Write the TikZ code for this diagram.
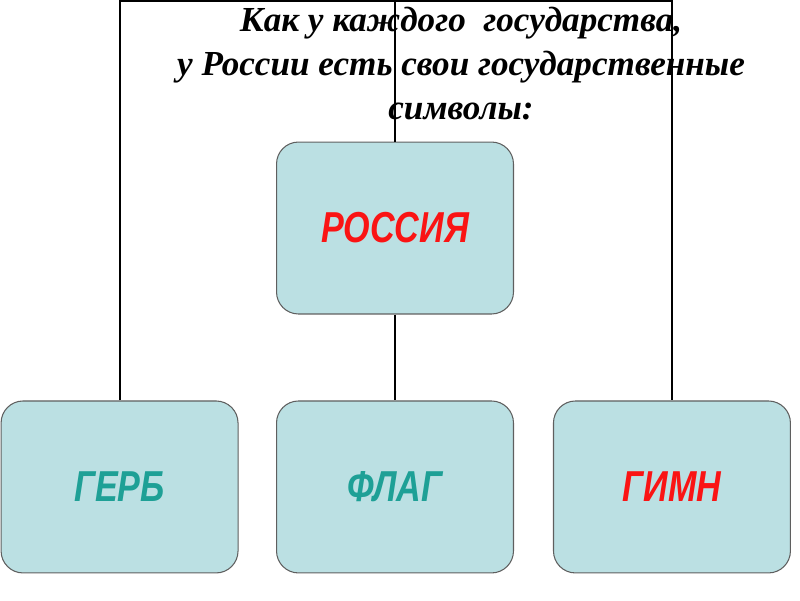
\documentclass[tikz,border=0pt]{standalone}
\usepackage{fontspec}
\setmainfont{Liberation Serif}
\newfontfamily\symfont{Liberation Sans}
\usetikzlibrary{positioning}

\definecolor{boxfill}{RGB}{187,224,227}
\definecolor{boxline}{RGB}{95,95,95}
\definecolor{symred}{RGB}{250,20,20}
\definecolor{symteal}{RGB}{30,160,150}

\newcommand{\symtext}[1]{\scalebox{1}[1.27]{#1}}

\begin{document}
\begin{tikzpicture}[
        x = 0.02cm, y = -0.02cm,
        node distance = 5.18cm,
        on grid,
        symbol/.style = {draw = boxline, line width = 0.6pt, fill = boxfill,
                         rounded corners = 0.44cm,
                         minimum width = 4.74cm, minimum height = 3.44cm,
                         font = \symfont\bfseries\itshape\fontsize{19.4}{20}\selectfont},
        heading/.style = {inner sep = 0pt, anchor = north, align = center,
                          font = \bfseries\itshape\fontsize{20}{25}\selectfont},
        link/.style = {draw = black, line width = 1.1pt}
    ]

      \useasboundingbox (0,0) rectangle (800,600);

      \node[symbol, text = symred] (rus) at (395,228) {\symtext{РОССИЯ}};
      \node[symbol, text = symteal] (flag) [below = 5.18cm of rus] {\symtext{ФЛАГ}};
      \node[symbol, text = symteal] (gerb) [left = 5.51cm of flag] {\symtext{ГЕРБ}};
      \node[symbol, text = symred] (gimn) [right = 5.54cm of flag] {\symtext{ГИМН}};

      \coordinate (top) at (395,1);

      \draw[link] (gerb.north) |- (top) -| (gimn.north);
      \path[link]
            (top) edge (rus.north)
            (rus.south) edge (flag.north);

      \node[heading] (head) at (461,7)
            {Как у каждого~ государства,\\
             у России есть свои государственные\\
             символы:};

    \end{tikzpicture}
\end{document}
